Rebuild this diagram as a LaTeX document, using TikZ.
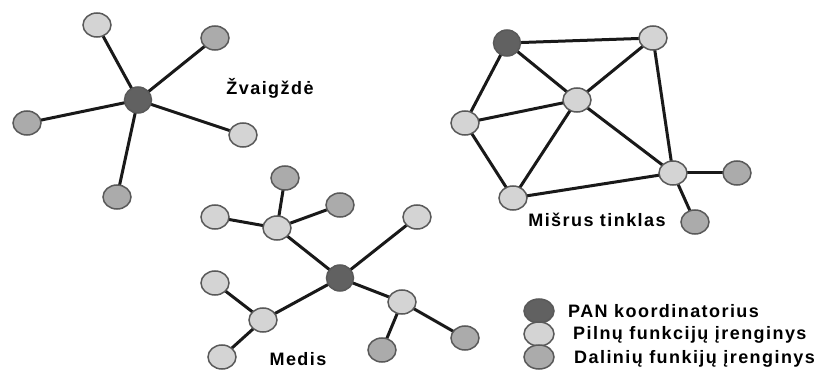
\documentclass[tikz,border=0pt]{standalone}
\usepackage{fontspec}
\setmainfont{Liberation Sans}[LetterSpace=8]
\usetikzlibrary{shapes.geometric,backgrounds}
\begin{document}
\begin{tikzpicture}[x=1pt,y=-1pt,
  dev/.style={ellipse,minimum width=28pt,minimum height=24pt,inner sep=0pt,
              draw=black!65,line width=1.5pt},
  coord/.style={dev,fill=black!62,minimum width=27pt,minimum height=26pt},
  ffd/.style={dev,fill=black!17},
  rfd/.style={dev,fill=black!33},
  legdev/.style={minimum width=30pt,minimum height=24pt},
  link/.style={line width=3pt,black!90},
  lbl/.style={font=\fontsize{18}{21}\selectfont\bfseries,inner sep=0pt},
  legtext/.style={lbl,anchor=west}]
\useasboundingbox (0,0) rectangle (825,385);

% ---- star topology ----
\node[coord] (sc) at (138,100) {};
\node[ffd] (s1) at (97,25) {};
\node[rfd] (s2) at (215,38) {};
\node[rfd] (s3) at (27,123) {};
\node[ffd] (s4) at (243,135) {};
\node[rfd] (s5) at (117,197) {};
\node[lbl] (lstar) at (270,88) {Žvaigždė};

% ---- mesh topology ----
\node[coord] (m1) at (507,43) {};
\node[ffd] (m2) at (653,38) {};
\node[ffd] (m3) at (577,100) {};
\node[ffd] (m4) at (465,123) {};
\node[ffd] (m5) at (513,198) {};
\node[ffd] (m6) at (673,173) {};
\node[rfd] (m7) at (737,173) {};
\node[rfd] (m8) at (695,222) {};
\node[lbl] (lmesh) at (597,220) {Mišrus tinklas};

% ---- tree topology ----
\node[coord] (tc) at (340,278) {};
\node[ffd] (ta) at (277,228) {};
\node[rfd] (ta1) at (285,178) {};
\node[ffd] (ta2) at (215,217) {};
\node[rfd] (ta3) at (340,205) {};
\node[ffd] (tb) at (417,217) {};
\node[ffd] (td) at (263,320) {};
\node[ffd] (td1) at (215,283) {};
\node[ffd] (td2) at (222,357) {};
\node[ffd] (te) at (402,302) {};
\node[rfd] (te1) at (382,350) {};
\node[rfd] (te2) at (465,338) {};
\node[lbl] (ltree) at (298,359) {Medis};

% ---- legend ----
\node[coord,legdev] (k1) at (539,311) {};
\node[ffd,legdev] (k2) at (539,334) {};
\node[rfd,legdev] (k3) at (539,357) {};
\node[legtext] (t1) at (568,311) {PAN koordinatorius};
\node[legtext] (t2) at (573,335) {Pilnų funkcijų įrenginys};
\node[legtext] (t3) at (574,359) {Dalinių funkijų įrenginys};

% ---- links, kept under the nodes ----
\begin{scope}[on background layer]
\foreach \n in {s1,s2,s3,s4,s5} \draw[link] (sc.center) -- (\n.center);
\foreach \a/\b in {m1/m2,m1/m3,m1/m4,m2/m3,m2/m6,m3/m4,m3/m5,m3/m6,
                   m4/m5,m5/m6,m6/m7,m6/m8}
  \draw[link] (\a.center) -- (\b.center);
\foreach \a/\b in {tc/ta,tc/tb,tc/td,tc/te,ta/ta1,ta/ta2,ta/ta3,
                   td/td1,td/td2,te/te1,te/te2}
  \draw[link] (\a.center) -- (\b.center);
\end{scope}
\end{tikzpicture}
\end{document}
